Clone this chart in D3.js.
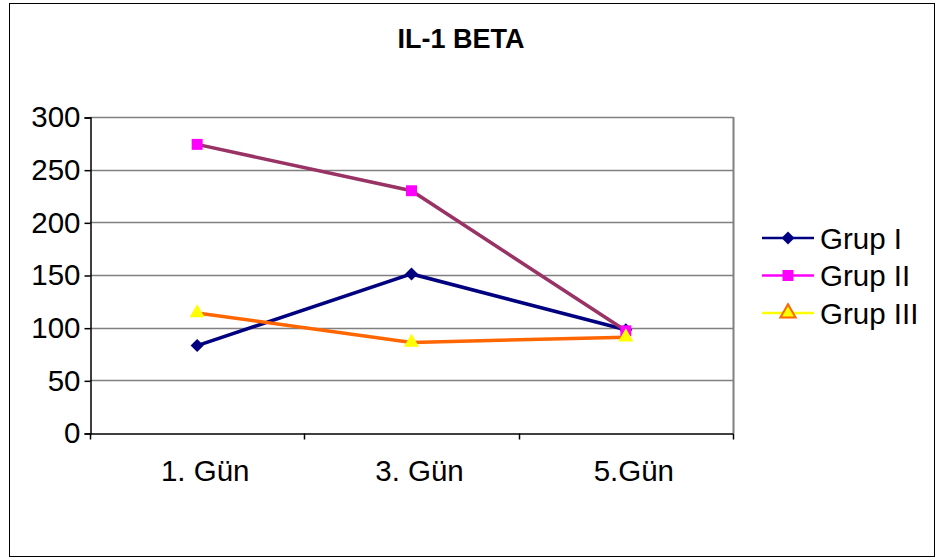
<!DOCTYPE html>
<html>
<head>
<meta charset="utf-8">
<script src="https://cdn.jsdelivr.net/npm/d3@7"></script>
<style>
  body { margin: 0; background: #fff; }
  text { font-family: "Liberation Sans", Arial, sans-serif; }
</style>
</head>
<body>
<div id="chart-area"></div>
<script>
var categories = ["1. Gün", "3. Gün", "5.Gün"];
var grup1 = [83, 151, 98];
var grup2 = [274, 230, 97];
var grup3 = [114, 86, 91];
var yTicks = [0, 50, 100, 150, 200, 250, 300];

var width = 936, height = 560;
var plot = { left: 90, right: 733, top: 117, bottom: 433 };

var svg = d3.select("#chart-area").append("svg")
    .attr("width", width)
    .attr("height", height);

// outer frame
svg.append("rect")
    .attr("x", 9.5).attr("y", 3.5)
    .attr("width", 925).attr("height", 553)
    .attr("fill", "#fff")
    .attr("stroke", "#000")
    .attr("stroke-width", 1);

var x = d3.scaleBand()
    .domain(categories)
    .range([plot.left, plot.right]);

var y = d3.scaleLinear()
    .domain([0, 300])
    .range([plot.bottom, plot.top]);

// gridlines
svg.selectAll("line.grid").data(yTicks.filter(function(d){ return d > 0; }))
  .enter().append("line")
    .attr("class", "grid")
    .attr("x1", plot.left).attr("x2", plot.right)
    .attr("y1", function(d){ return Math.round(y(d)) + 0.5; })
    .attr("y2", function(d){ return Math.round(y(d)) + 0.5; })
    .attr("stroke", "#808080")
    .attr("stroke-width", 1.5);

// plot area right border
svg.append("line")
    .attr("x1", plot.right + 0.5).attr("x2", plot.right + 0.5)
    .attr("y1", plot.top).attr("y2", plot.bottom)
    .attr("stroke", "#808080")
    .attr("stroke-width", 2);

// y axis
var yAxis = d3.axisLeft(y)
    .tickValues(yTicks)
    .tickSize(6)
    .tickPadding(4);
var gy = svg.append("g")
    .attr("transform", "translate(" + (plot.left + 0.5) + ",0.5)")
    .call(yAxis);
gy.select(".domain").attr("stroke", "#000").attr("stroke-width", 1.5);
gy.selectAll(".tick line").attr("stroke", "#000").attr("stroke-width", 1.5);
gy.selectAll(".tick text")
    .attr("font-size", 29.5)
    .attr("fill", "#000")
    .attr("font-family", "Liberation Sans, Arial, sans-serif");

// x axis
var xAxis = d3.axisBottom(x).tickSize(0).tickPadding(27);
var gx = svg.append("g")
    .attr("transform", "translate(0," + (plot.bottom + 0.5) + ")")
    .call(xAxis);
gx.select(".domain").attr("stroke", "#000").attr("stroke-width", 1.5);
gx.selectAll(".tick text")
    .attr("font-size", 29.5)
    .attr("dx", 8)
    .attr("fill", "#000")
    .attr("font-family", "Liberation Sans, Arial, sans-serif");
// tick marks between categories
var bounds = categories.map(function(c){ return x(c); }).concat([x(categories[2]) + x.bandwidth()]);
gx.selectAll("line.sep").data(bounds)
  .enter().append("line")
    .attr("class", "sep")
    .attr("x1", function(d){ return Math.round(d) + 0.5; })
    .attr("x2", function(d){ return Math.round(d) + 0.5; })
    .attr("y1", 0).attr("y2", 6)
    .attr("stroke", "#000")
    .attr("stroke-width", 1.5);

function cx(d, i){ return x(categories[i]) + x.bandwidth() / 2; }

var series = [
  { name: "Grup I", values: grup1, line: "#000080", marker: d3.symbolSquare, rot: 45, fill: "#000080", size: 85, legendLine: "#000080", legendStroke: "#000080" },
  { name: "Grup II", values: grup2, line: "#993366", marker: d3.symbolSquare, rot: 0, fill: "#ff00ff", size: 120, legendLine: "#ff00ff", legendStroke: "#ff00ff" },
  { name: "Grup III", values: grup3, line: "#ff6600", marker: d3.symbolTriangle, rot: 0, fill: "#ffff00", size: 100, legendLine: "#ffff00", legendStroke: "#ff6600" }
];

var line = d3.line()
    .x(cx)
    .y(function(d){ return y(d); });

series.forEach(function(s){
    svg.append("path")
        .datum(s.values)
        .attr("d", line)
        .attr("fill", "none")
        .attr("stroke", s.line)
        .attr("stroke-width", 3.5);
});

series.forEach(function(s, k){
    svg.selectAll("path.m" + k).data(s.values)
      .enter().append("path")
        .attr("class", "m" + k)
        .attr("d", d3.symbol().type(s.marker).size(s.size))
        .attr("transform", function(d, i){
            return "translate(" + cx(d, i) + "," + y(d) + ") rotate(" + s.rot + ")";
        })
        .attr("fill", s.fill);
});

// title
svg.append("text")
    .attr("x", 461)
    .attr("y", 48)
    .attr("text-anchor", "middle")
    .attr("font-size", 27)
    .attr("font-weight", "bold")
    .attr("fill", "#000")
    .text("IL-1 BETA");

// legend
var legend = svg.selectAll("g.legend").data(series)
  .enter().append("g")
    .attr("class", "legend")
    .attr("transform", function(d, i){ return "translate(762," + (238 + i * 37.5) + ")"; });

legend.append("line")
    .attr("x1", 0).attr("x2", 52)
    .attr("y1", 0).attr("y2", 0)
    .attr("stroke", function(d){ return d.legendLine; })
    .attr("stroke-width", 2.5);

legend.append("path")
    .attr("d", function(d){ return d3.symbol().type(d.marker).size(d.size)(); })
    .attr("transform", function(d){ return "translate(26,0) rotate(" + d.rot + ")"; })
    .attr("fill", function(d){ return d.fill; })
    .attr("stroke", function(d){ return d.legendStroke; })
    .attr("stroke-width", function(d){ return d.marker === d3.symbolTriangle ? 2 : 0; });

legend.append("text")
    .attr("x", 58)
    .attr("y", 10.5)
    .attr("font-size", 29.5)
    .attr("fill", "#000")
    .text(function(d){ return d.name; });
</script>
</body>
</html>
